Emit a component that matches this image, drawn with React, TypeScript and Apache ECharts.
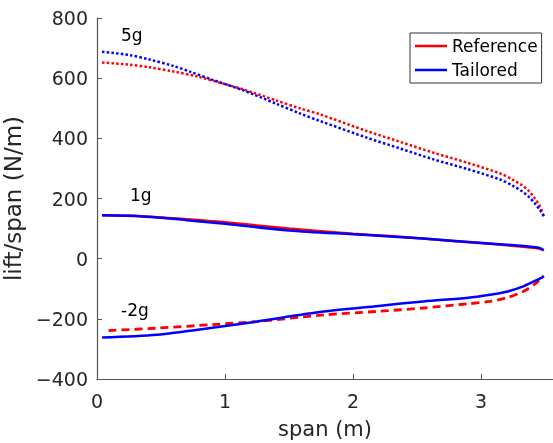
import React, { useEffect, useRef } from "react";
import * as echarts from "echarts";

const xTicks = [0, 1, 2, 3];
const yTicks = [-400, -200, 0, 200, 400, 600, 800];

const ref5x = [0.04, 0.25, 0.41, 0.6, 0.78, 1.0, 1.14, 1.4, 1.59, 1.74, 2.11, 2.37, 2.63, 2.9, 3.15, 3.25, 3.32, 3.38, 3.42, 3.46, 3.49];
const ref5y = [652, 645, 636, 622, 606, 580, 563, 526, 499, 480, 424, 388, 352, 318, 283, 262, 244, 222, 200, 175, 141];
const tai5x = [0.04, 0.25, 0.41, 0.6, 0.73, 0.9, 1.14, 1.4, 1.59, 1.74, 2.11, 2.37, 2.63, 2.9, 3.15, 3.25, 3.32, 3.38, 3.42, 3.46, 3.49];
const tai5y = [688, 677, 662, 640, 621, 595, 560, 515, 482, 458, 402, 366, 330, 297, 263, 242, 224, 203, 184, 162, 141];

const ref1x = [0.04, 0.34, 0.7, 1.0, 1.5, 2.0, 2.29, 2.8, 3.33, 3.45, 3.49];
const ref1y = [144, 141, 131, 121, 100, 83, 75, 58, 40, 34, 28];
const tai1x = [0.04, 0.34, 0.7, 1.0, 1.5, 2.0, 2.29, 2.8, 3.33, 3.45, 3.49];
const tai1y = [144, 141, 128, 116, 94, 81, 74, 59, 42, 36, 28];

const ref2x = [0.09, 0.47, 0.9, 1.25, 1.77, 2.2, 2.55, 2.9, 3.07, 3.2, 3.33, 3.42, 3.49];
const ref2y = [-239, -231, -219, -209, -187, -175, -164, -150, -142, -130, -109, -85, -57];
const tai2x = [0.04, 0.47, 0.9, 1.25, 1.77, 2.2, 2.55, 2.9, 3.07, 3.2, 3.33, 3.45, 3.49];
const tai2y = [-262, -253, -230, -209, -176, -157, -142, -130, -120, -110, -92, -68, -60];

const caseLabels = ["5g", "1g", "-2g"];
const caseLabelPos = [
  [121, 34.5],
  [130, 194.5],
  [121, 309.5],
];

const FONT = "DejaVu Sans";
const RED = "#ff0000";
const BLUE = "#0000ff";

function pairs(xs: number[], ys: number[]) {
  return xs.map((x, i) => [x, ys[i]]);
}

export default function App() {
  const ref = useRef<HTMLDivElement>(null);
  useEffect(() => {
    if (!ref.current) return;
    const chart = echarts.init(ref.current, null, { renderer: "svg" });
    const mk = (name: string, xs: number[], ys: number[], color: string, type: any, width: number) => ({
      name,
      type: "line",
      data: pairs(xs, ys),
      showSymbol: false,
      symbol: "none",
      smooth: 0.3,
      lineStyle: { color, width, type },
      itemStyle: { color },
    });
    chart.setOption({
      animation: false,
      grid: { left: 97, top: 18, right: 0, bottom: 64, outerBoundsMode: "none", containLabel: false },
      legend: {
        orient: "vertical",
        left: 410,
        top: 33,
        padding: [4, 4, 4, 5],
        icon: "rect",
        itemWidth: 32,
        itemHeight: 2.5,
        itemGap: 6,
        borderColor: "#333",
        borderWidth: 1,
        backgroundColor: "#fff",
        textStyle: { fontFamily: FONT, fontSize: 17, color: "#000", lineHeight: 18 },
        data: ["Reference", "Tailored"],
      },
      xAxis: {
        type: "value",
        min: 0,
        max: 3.5625,
        interval: 1,
        name: "span (m)",
        nameLocation: "middle",
        nameGap: 39,
        nameTextStyle: { fontFamily: FONT, fontSize: 21, color: "#262626" },
        axisLine: { show: true, onZero: false, lineStyle: { color: "#555", width: 1.2 } },
        axisTick: { show: true, inside: true, length: 5, lineStyle: { color: "#555" } },
        axisLabel: {
          margin: 12,
          fontFamily: FONT,
          fontSize: 19,
          color: "#262626",
          formatter: (v: number) => (xTicks.includes(v) ? String(v) : ""),
        },
        splitLine: { show: false },
      },
      yAxis: {
        type: "value",
        min: -400,
        max: 800,
        interval: 200,
        name: "lift/span (N/m)",
        nameLocation: "middle",
        nameGap: 63,
        nameTextStyle: { fontFamily: FONT, fontSize: 23, color: "#262626" },
        axisLine: { show: true, onZero: false, lineStyle: { color: "#555", width: 1.2 } },
        axisTick: { show: true, inside: true, length: 5, lineStyle: { color: "#555" } },
        axisLabel: {
          margin: 9,
          fontFamily: FONT,
          fontSize: 19,
          color: "#262626",
          formatter: (v: number) => (yTicks.includes(v) ? String(v).replace("-", "\u2212") : ""),
        },
        splitLine: { show: false },
      },
      series: [
        mk("Reference", ref1x, ref1y, RED, "solid", 2.5),
        mk("Tailored", tai1x, tai1y, BLUE, "solid", 2.5),
        mk("Reference", ref5x, ref5y, RED, [2.5, 2.2], 2.5),
        mk("Tailored", tai5x, tai5y, BLUE, [2.5, 2.2], 2.5),
        mk("Reference", ref2x, ref2y, RED, [8, 5], 2.8),
        mk("Tailored", tai2x, tai2y, BLUE, "solid", 2.5),
      ],
      graphic: caseLabels.map((t, i) => ({
        type: "text",
        x: caseLabelPos[i][0],
        y: caseLabelPos[i][1],
        style: {
          text: t,
          fontFamily: FONT,
          fontSize: 17,
          fill: "#000",
          verticalAlign: "middle",
          align: "left",
        },
      })),
    });
    return () => chart.dispose();
  }, []);
  return (
    <div
      ref={ref}
      style={{ position: "fixed", left: 0, top: 0, width: 553, height: 443 }}
    />
  );
}
